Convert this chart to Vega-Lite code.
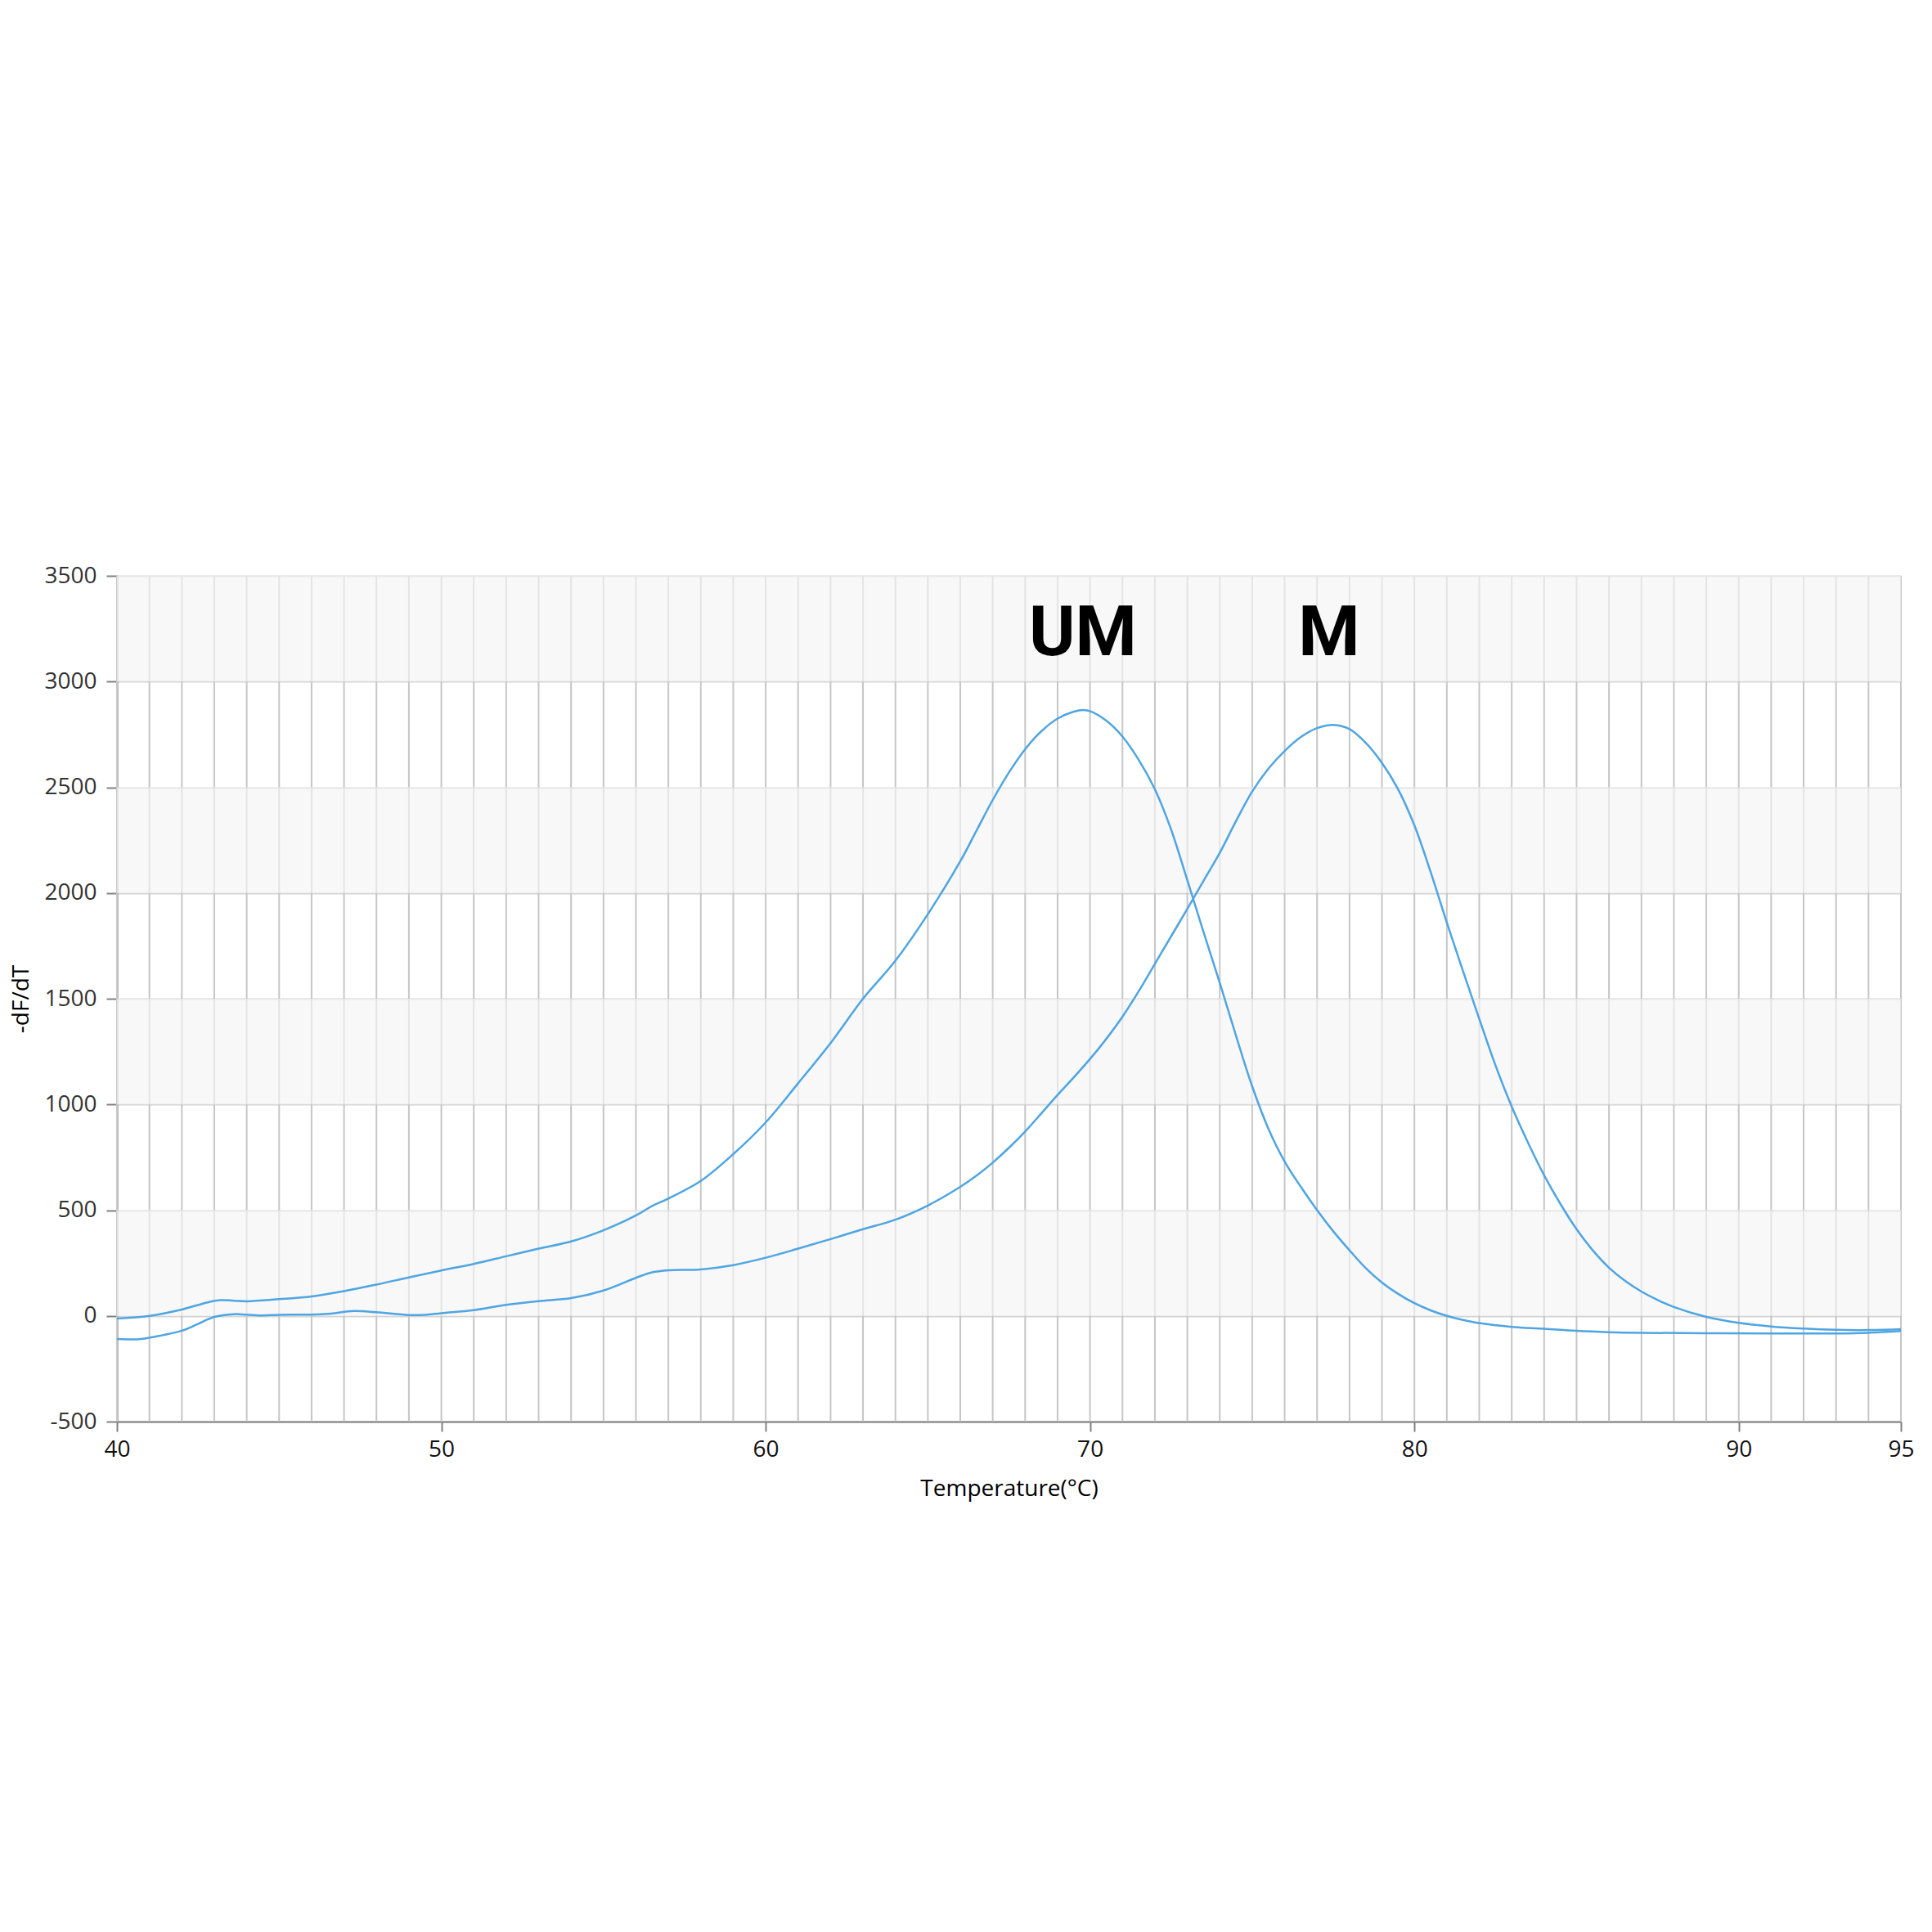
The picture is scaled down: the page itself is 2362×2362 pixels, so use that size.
{
  "$schema": "https://vega.github.io/schema/vega-lite/v6.json",
  "autosize": "none",
  "width": 2181,
  "height": 1034,
  "padding": {"left": 143, "top": 704, "right": 38, "bottom": 624},
  "background": "white",
  "config": {"view": {"stroke": null}},
  "datasets": {
    "grid": [
      {"t": 40},{"t": 41},{"t": 42},{"t": 43},{"t": 44},{"t": 45},{"t": 46},{"t": 47},{"t": 48},{"t": 49},
      {"t": 50},{"t": 51},{"t": 52},{"t": 53},{"t": 54},{"t": 55},{"t": 56},{"t": 57},{"t": 58},{"t": 59},
      {"t": 60},{"t": 61},{"t": 62},{"t": 63},{"t": 64},{"t": 65},{"t": 66},{"t": 67},{"t": 68},{"t": 69},
      {"t": 70},{"t": 71},{"t": 72},{"t": 73},{"t": 74},{"t": 75},{"t": 76},{"t": 77},{"t": 78},{"t": 79},
      {"t": 80},{"t": 81},{"t": 82},{"t": 83},{"t": 84},{"t": 85},{"t": 86},{"t": 87},{"t": 88},{"t": 89},
      {"t": 90},{"t": 91},{"t": 92},{"t": 93},{"t": 94},{"t": 95}
    ],
    "bands": [
      {"v": 0, "v2": 500},
      {"v": 1000, "v2": 1500},
      {"v": 2000, "v2": 2500},
      {"v": 3000, "v2": 3500}
    ],
    "curves": [
      {"s": "UM", "t": 40, "v": -13},
      {"s": "UM", "t": 41, "v": 0},
      {"s": "UM", "t": 42, "v": 30},
      {"s": "UM", "t": 42.8, "v": 64},
      {"s": "UM", "t": 43.2, "v": 74},
      {"s": "UM", "t": 43.6, "v": 72},
      {"s": "UM", "t": 44, "v": 69},
      {"s": "UM", "t": 45, "v": 79},
      {"s": "UM", "t": 46, "v": 92},
      {"s": "UM", "t": 47, "v": 117},
      {"s": "UM", "t": 48, "v": 148},
      {"s": "UM", "t": 49, "v": 182},
      {"s": "UM", "t": 50, "v": 215},
      {"s": "UM", "t": 51, "v": 246},
      {"s": "UM", "t": 52, "v": 282},
      {"s": "UM", "t": 53, "v": 318},
      {"s": "UM", "t": 54, "v": 352},
      {"s": "UM", "t": 55, "v": 405},
      {"s": "UM", "t": 56, "v": 475},
      {"s": "UM", "t": 56.5, "v": 520},
      {"s": "UM", "t": 57, "v": 555},
      {"s": "UM", "t": 58, "v": 638},
      {"s": "UM", "t": 59, "v": 765},
      {"s": "UM", "t": 60, "v": 915},
      {"s": "UM", "t": 61, "v": 1100},
      {"s": "UM", "t": 62, "v": 1290},
      {"s": "UM", "t": 63, "v": 1500},
      {"s": "UM", "t": 64, "v": 1680},
      {"s": "UM", "t": 65, "v": 1900},
      {"s": "UM", "t": 66, "v": 2150},
      {"s": "UM", "t": 66.5, "v": 2295},
      {"s": "UM", "t": 67, "v": 2440},
      {"s": "UM", "t": 67.5, "v": 2570},
      {"s": "UM", "t": 68, "v": 2680},
      {"s": "UM", "t": 68.5, "v": 2765},
      {"s": "UM", "t": 69, "v": 2825},
      {"s": "UM", "t": 69.5, "v": 2858},
      {"s": "UM", "t": 69.8, "v": 2866},
      {"s": "UM", "t": 70, "v": 2860},
      {"s": "UM", "t": 70.5, "v": 2815},
      {"s": "UM", "t": 71, "v": 2740},
      {"s": "UM", "t": 71.5, "v": 2630},
      {"s": "UM", "t": 72, "v": 2490},
      {"s": "UM", "t": 72.5, "v": 2300},
      {"s": "UM", "t": 73, "v": 2060},
      {"s": "UM", "t": 73.5, "v": 1815},
      {"s": "UM", "t": 74, "v": 1575},
      {"s": "UM", "t": 74.5, "v": 1325},
      {"s": "UM", "t": 75, "v": 1085},
      {"s": "UM", "t": 75.5, "v": 885},
      {"s": "UM", "t": 76, "v": 730},
      {"s": "UM", "t": 76.5, "v": 610},
      {"s": "UM", "t": 77, "v": 500},
      {"s": "UM", "t": 77.5, "v": 400},
      {"s": "UM", "t": 78, "v": 310},
      {"s": "UM", "t": 78.5, "v": 226},
      {"s": "UM", "t": 79, "v": 158},
      {"s": "UM", "t": 79.5, "v": 104},
      {"s": "UM", "t": 80, "v": 60},
      {"s": "UM", "t": 80.5, "v": 26},
      {"s": "UM", "t": 81, "v": 0},
      {"s": "UM", "t": 81.5, "v": -19},
      {"s": "UM", "t": 82, "v": -34},
      {"s": "UM", "t": 83, "v": -52},
      {"s": "UM", "t": 84, "v": -61},
      {"s": "UM", "t": 85, "v": -71},
      {"s": "UM", "t": 86, "v": -77},
      {"s": "UM", "t": 87, "v": -80},
      {"s": "UM", "t": 89, "v": -82},
      {"s": "UM", "t": 91, "v": -83},
      {"s": "UM", "t": 93, "v": -83},
      {"s": "UM", "t": 94, "v": -80},
      {"s": "UM", "t": 95, "v": -72},
      {"s": "M", "t": 40, "v": -109},
      {"s": "M", "t": 40.7, "v": -110},
      {"s": "M", "t": 41, "v": -103},
      {"s": "M", "t": 42, "v": -70},
      {"s": "M", "t": 42.5, "v": -38},
      {"s": "M", "t": 43, "v": -5},
      {"s": "M", "t": 43.6, "v": 8},
      {"s": "M", "t": 44, "v": 6},
      {"s": "M", "t": 44.5, "v": 2},
      {"s": "M", "t": 45, "v": 5},
      {"s": "M", "t": 46, "v": 6},
      {"s": "M", "t": 46.6, "v": 11},
      {"s": "M", "t": 47.3, "v": 23},
      {"s": "M", "t": 48, "v": 17},
      {"s": "M", "t": 49, "v": 4},
      {"s": "M", "t": 49.5, "v": 5},
      {"s": "M", "t": 50, "v": 13},
      {"s": "M", "t": 51, "v": 27},
      {"s": "M", "t": 52, "v": 52},
      {"s": "M", "t": 53, "v": 70},
      {"s": "M", "t": 54, "v": 84},
      {"s": "M", "t": 55, "v": 120},
      {"s": "M", "t": 56, "v": 180},
      {"s": "M", "t": 56.5, "v": 206},
      {"s": "M", "t": 57, "v": 216},
      {"s": "M", "t": 58, "v": 220},
      {"s": "M", "t": 59, "v": 240},
      {"s": "M", "t": 60, "v": 275},
      {"s": "M", "t": 61, "v": 318},
      {"s": "M", "t": 62, "v": 363},
      {"s": "M", "t": 63, "v": 410},
      {"s": "M", "t": 64, "v": 455},
      {"s": "M", "t": 65, "v": 522},
      {"s": "M", "t": 66, "v": 610},
      {"s": "M", "t": 66.5, "v": 663},
      {"s": "M", "t": 67, "v": 725},
      {"s": "M", "t": 67.5, "v": 795},
      {"s": "M", "t": 68, "v": 872},
      {"s": "M", "t": 68.5, "v": 958},
      {"s": "M", "t": 69, "v": 1045},
      {"s": "M", "t": 69.5, "v": 1128},
      {"s": "M", "t": 70, "v": 1215},
      {"s": "M", "t": 70.5, "v": 1310},
      {"s": "M", "t": 71, "v": 1415},
      {"s": "M", "t": 71.5, "v": 1535},
      {"s": "M", "t": 72, "v": 1665},
      {"s": "M", "t": 72.5, "v": 1795},
      {"s": "M", "t": 73, "v": 1925},
      {"s": "M", "t": 73.5, "v": 2058},
      {"s": "M", "t": 74, "v": 2190},
      {"s": "M", "t": 74.5, "v": 2340},
      {"s": "M", "t": 75, "v": 2480},
      {"s": "M", "t": 75.5, "v": 2588},
      {"s": "M", "t": 76, "v": 2672},
      {"s": "M", "t": 76.5, "v": 2738},
      {"s": "M", "t": 77, "v": 2780},
      {"s": "M", "t": 77.5, "v": 2795},
      {"s": "M", "t": 78, "v": 2775},
      {"s": "M", "t": 78.5, "v": 2710},
      {"s": "M", "t": 79, "v": 2615},
      {"s": "M", "t": 79.5, "v": 2490},
      {"s": "M", "t": 80, "v": 2320},
      {"s": "M", "t": 80.5, "v": 2100},
      {"s": "M", "t": 81, "v": 1860},
      {"s": "M", "t": 81.5, "v": 1630},
      {"s": "M", "t": 82, "v": 1405},
      {"s": "M", "t": 82.5, "v": 1185},
      {"s": "M", "t": 83, "v": 990},
      {"s": "M", "t": 83.5, "v": 820},
      {"s": "M", "t": 84, "v": 665},
      {"s": "M", "t": 84.5, "v": 530},
      {"s": "M", "t": 85, "v": 410},
      {"s": "M", "t": 85.5, "v": 310},
      {"s": "M", "t": 86, "v": 228},
      {"s": "M", "t": 86.5, "v": 165},
      {"s": "M", "t": 87, "v": 115},
      {"s": "M", "t": 87.5, "v": 75},
      {"s": "M", "t": 88, "v": 42},
      {"s": "M", "t": 89, "v": -5},
      {"s": "M", "t": 90, "v": -33},
      {"s": "M", "t": 91, "v": -50},
      {"s": "M", "t": 92, "v": -60},
      {"s": "M", "t": 93, "v": -66},
      {"s": "M", "t": 94, "v": -67},
      {"s": "M", "t": 95, "v": -63}
    ],
    "labels": [
      {"label": "UM", "t": 69.78, "v": 3125},
      {"label": "M", "t": 77.37, "v": 3125}
    ]
  },
  "layer": [
    {
      "data": {"name": "grid"},
      "mark": {"type": "rule", "color": "#c6c6c6", "strokeWidth": 2},
      "encoding": {
        "x": {"field": "t", "type": "quantitative", "title": "Temperature(°C)"}
      }
    },
    {
      "data": {"name": "bands"},
      "mark": {"type": "rect", "fill": "#f4f4f4", "opacity": 0.65},
      "encoding": {
        "x": {"datum": 40, "type": "quantitative", "title": "Temperature(°C)"},
        "x2": {"datum": 95},
        "y": {"field": "v", "type": "quantitative", "title": "-dF/dT"},
        "y2": {"field": "v2"}
      }
    },
    {
      "data": {"name": "curves"},
      "mark": {"type": "line", "interpolate": "catmull-rom", "strokeWidth": 2.5, "color": "#4ea5e2"},
      "encoding": {
        "x": {
          "field": "t",
          "type": "quantitative",
          "title": "Temperature(°C)",
          "scale": {"domain": [40, 95], "nice": false, "zero": false},
          "axis": {
            "values": [40, 50, 60, 70, 80, 90, 95],
            "labelOverlap": false,
            "labelFlush": false,
            "labelFont": "Open Sans",
            "labelFontSize": 28,
            "labelColor": "#111111",
            "labelPadding": 8,
            "tickColor": "#808080",
            "tickWidth": 2,
            "tickSize": 12,
            "domainColor": "#808080",
            "domainWidth": 2,
            "grid": false,
            "titleFont": "Open Sans",
            "titleFontSize": 28,
            "titleFontWeight": "normal",
            "titleColor": "#000000",
            "titleY": 90,
            "titleBaseline": "alphabetic"
          }
        },
        "y": {
          "field": "v",
          "type": "quantitative",
          "title": "-dF/dT",
          "scale": {"domain": [-500, 3500], "nice": false, "zero": false},
          "axis": {
            "values": [-500, 0, 500, 1000, 1500, 2000, 2500, 3000, 3500],
            "labelExpr": "datum.value + ''",
            "labelFont": "Open Sans",
            "labelFontSize": 28,
            "labelColor": "#333333",
            "labelPadding": 12,
            "tickColor": "#808080",
            "tickWidth": 2,
            "tickSize": 13,
            "domainColor": "#808080",
            "domainWidth": 2,
            "grid": true,
            "gridColor": "#d4d4d4",
            "gridWidth": 2,
            "titleFont": "Open Sans",
            "titleFontSize": 28,
            "titleFontWeight": "normal",
            "titleColor": "#000000",
            "titleX": -117,
            "titleY": 517,
            "titleAngle": -90,
            "titleAlign": "center",
            "titleBaseline": "middle"
          }
        },
        "detail": {"field": "s"}
      }
    },
    {
      "data": {"name": "labels"},
      "mark": {"type": "text", "font": "Roboto", "fontWeight": "bold", "fontSize": 86, "color": "#000000", "align": "center", "baseline": "alphabetic"},
      "encoding": {
        "x": {"field": "t", "type": "quantitative", "title": "Temperature(°C)"},
        "y": {"field": "v", "type": "quantitative", "title": "-dF/dT"},
        "text": {"field": "label"}
      }
    }
  ]
}
